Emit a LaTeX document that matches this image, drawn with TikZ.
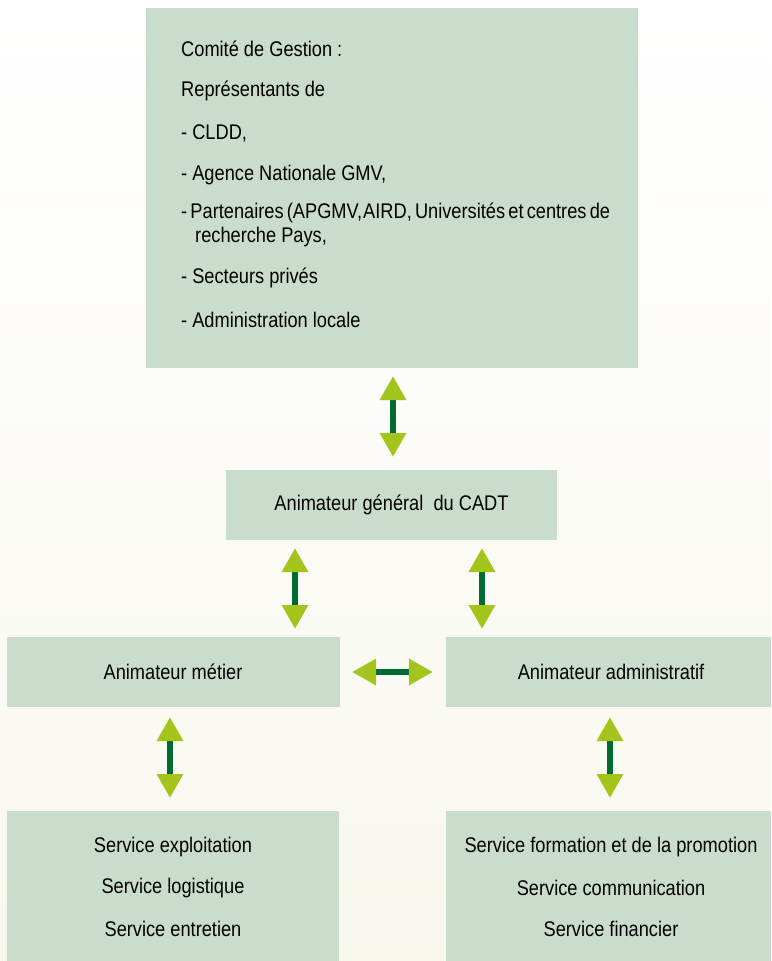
\documentclass[tikz,border=0pt]{standalone}
\usepackage{fontspec}
\setmainfont{Liberation Sans}[FakeStretch=0.86]
\usetikzlibrary{arrows.meta}
\definecolor{boxfill}{HTML}{CADCCB}
\definecolor{lime}{HTML}{A3C41A}
\definecolor{dkgreen}{HTML}{006B30}
\definecolor{bgtop}{HTML}{FFFFFF}
\definecolor{bgbot}{HTML}{F8F7EE}
\tikzset{
  box/.style={fill=boxfill, draw=none, inner sep=0pt, anchor=north west},
  txt/.style={font=\fontsize{21.2}{24}\selectfont, text=black, inner sep=0pt},
  dbl/.style={draw=dkgreen, line width=6pt,
    {Triangle[width=25pt,length=24pt,color=lime]}-{Triangle[width=25pt,length=24pt,color=lime]}},
}
\begin{document}
\begin{tikzpicture}[x=1pt,y=-1pt]
\useasboundingbox (0,0) rectangle (771,961);
\shade[top color=bgtop, bottom color=bgbot] (0,0) rectangle (771,961);
% boxes
\node[box, minimum width=492pt, minimum height=360pt] (top) at (146,8) {};
\node[box, minimum width=331pt, minimum height=70pt] (gen) at (226,470) {};
\node[box, minimum width=333pt, minimum height=70pt] (met) at (7,637) {};
\node[box, minimum width=325pt, minimum height=70pt] (adm) at (446,637) {};
\node[box, minimum width=332pt, minimum height=150pt] (sl) at (7,811) {};
\node[box, minimum width=325pt, minimum height=150pt] (sr) at (446,811) {};
% top box text
\node[txt, anchor=west] (t1) at (181,49) {Comité de Gestion :};
\node[txt, anchor=west] (t2) at (181,91) {Représentants de};
\node[txt, anchor=west] (t3) at (181,133) {- CLDD,};
\node[txt, anchor=west] (t4) at (181,175) {- Agence Nationale GMV,};
\node[txt, anchor=west] (t5) at (181,213) {\spaceskip=3.2pt\relax - Partenaires (APGMV,\hspace{1pt}AIRD, Universités et centres de};
\node[txt, anchor=west] (t5b) at (195,237) {recherche Pays,};
\node[txt, anchor=west] (t6) at (181,278) {- Secteurs privés};
\node[txt, anchor=west] (t7) at (181,320) {- Administration locale};
% other texts
\node[txt] (gt) at (391.5,505) {Animateur général\ \ du CADT};
\node[txt] (mt) at (173,672) {Animateur métier};
\node[txt] (at) at (611,672) {Animateur administratif};
\node[txt] (s1) at (173,847) {Service exploitation};
\node[txt] (s2) at (173,888) {Service logistique};
\node[txt] (s3) at (173,929) {Service entretien};
\node[txt] (r1) at (611,847) {Service formation et de la promotion};
\node[txt] (r2) at (611,888) {Service communication};
\node[txt] (r3) at (611,929) {Service financier};
% arrow end points
\coordinate (a1s) at (393,376); \coordinate (a1e) at (393,457);
\coordinate (a2s) at (295,548); \coordinate (a2e) at (295,629);
\coordinate (a3s) at (482,548); \coordinate (a3e) at (482,629);
\coordinate (a4s) at (352,672); \coordinate (a4e) at (433,672);
\coordinate (a5s) at (170,717); \coordinate (a5e) at (170,798);
\coordinate (a6s) at (610,717); \coordinate (a6e) at (610,798);
\draw[dbl] (a1s) -- (a1e);
\draw[dbl] (a2s) -- (a2e);
\draw[dbl] (a3s) -- (a3e);
\draw[dbl] (a4s) -- (a4e);
\draw[dbl] (a5s) -- (a5e);
\draw[dbl] (a6s) -- (a6e);
\end{tikzpicture}
\end{document}
